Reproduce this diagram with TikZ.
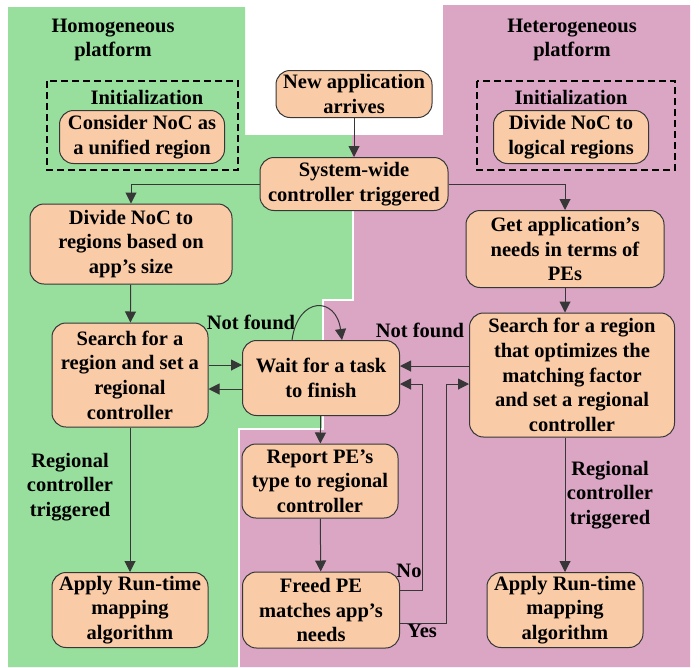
\documentclass[tikz,border=0pt]{standalone}
\usepackage{fontspec}
\setmainfont{Liberation Serif}
\usetikzlibrary{arrows.meta}
\definecolor{greenbg}{RGB}{152,223,157}
\definecolor{pinkbg}{RGB}{218,166,196}
\definecolor{peach}{RGB}{249,203,167}
\definecolor{linec}{RGB}{55,55,55}
\tikzset{
  box/.style={draw=linec, line width=1pt, fill=peach, rounded corners=14pt, align=center,
    font=\fontsize{20.5}{24.7}\selectfont\bfseries, inner sep=0pt},
  lbl/.style={align=center, font=\fontsize{20.5}{24.7}\selectfont\bfseries, inner sep=0pt},
  arr/.style={draw=linec, line width=1pt, -{Triangle[length=11pt,width=11pt]}},
  initbox/.style={draw=black, line width=1.1pt, dash pattern=on 7pt off 4pt}
}
\begin{document}
\begin{tikzpicture}[x=1pt,y=-1pt]
\useasboundingbox (0,0) rectangle (700,667);
% backgrounds
\fill[pinkbg] (443,5) -- (690,5) -- (690,667) -- (240,667) -- (240,428) -- (322,428) -- (322,300) -- (352,300) -- (352,135) -- (443,135) -- cycle;
\fill[greenbg] (8,7) -- (245,7) -- (245,135) -- (352,135) -- (352,300) -- (322,300) -- (322,428) -- (238,428) -- (238,667) -- (8,667) -- cycle;
\draw[white, line width=2.5pt] (353,210) -- (353,300) -- (323,300) -- (323,429) -- (239,429) -- (239,667);
% titles
\node[lbl] (homt) at (113,40) {Homogeneous\\platform};
\node[lbl] (hett) at (572,40) {Heterogeneous\\platform};
% initialization boxes
\draw[initbox] (47,81) rectangle (238,170);
\draw[initbox] (477,81) rectangle (675,170);
\node[lbl] (initL) at (147,97) {Initialization};
\node[lbl] (initR) at (571,97) {Initialization};
\node[box, minimum width=165pt, minimum height=53pt] (cons) at (142,137) {Consider NoC as\\a unified region};
\node[box, minimum width=155pt, minimum height=53pt] (divl) at (571,137) {Divide NoC to\\logical regions};
% main boxes
\node[box, minimum width=156pt, minimum height=47pt] (new) at (354,94) {New application\\arrives};
\node[box, minimum width=188pt, minimum height=53pt] (sys) at (354,184) {System-wide\\controller triggered};
\node[box, minimum width=202pt, minimum height=80pt] (divnoc) at (131,244) {Divide NoC to\\regions based on\\app's size};
\node[box, minimum width=198pt, minimum height=77pt] (getapp) at (565,249) {Get application's\\needs in terms of\\PEs};
\node[box, minimum width=156pt, minimum height=104pt] (searchL) at (130,375) {Search for a\\region and set a\\regional\\controller};
\node[box, minimum width=157pt, minimum height=75pt] (wait) at (321,378) {Wait for a task\\to finish};
\node[box, minimum width=205pt, minimum height=124pt] (searchR) at (572,375) {Search for a region\\that optimizes the\\matching factor\\and set a regional\\controller};
\node[box, minimum width=156pt, minimum height=74pt] (report) at (320,481) {Report PE's\\type to regional\\controller};
\node[box, minimum width=156pt, minimum height=75pt] (applyL) at (130,610) {Apply Run-time\\mapping\\algorithm};
\node[box, minimum width=157pt, minimum height=76pt] (freed) at (321,610) {Freed PE\\matches app's\\needs};
\node[box, minimum width=156pt, minimum height=75pt] (applyR) at (565,610) {Apply Run-time\\mapping\\algorithm};
% labels
\node[lbl] (nfL) at (251,322) {Not found};
\node[lbl] (nfR) at (420,330) {Not found};
\node[lbl] (rcL) at (70,487) {Regional\\controller\\triggered};
\node[lbl] (rcR) at (610,495) {Regional\\controller\\triggered};
\node[lbl] (no) at (409,571) {No};
\node[lbl] (yes) at (422,631) {Yes};
% connectors
\draw[arr] (new) -- (sys);
\draw[arr] (sys.west) -| (divnoc.north);
\draw[arr] (sys.east) -| (getapp.north);
\draw[arr] (divnoc) -- (searchL);
\draw[arr] (getapp.south) -- (getapp.south |- searchR.north);
\draw[arr] (searchL.east |- 0,365) -- (wait.west |- 0,365);
\draw[arr] (wait.west |- 0,389) -- (searchL.east |- 0,389);
\draw[arr] (searchR.west |- 0,366) -- (wait.east |- 0,366);
\draw[arr] ([xshift=-29pt]wait.north) .. controls (298,296) and (336,296) .. ([xshift=21pt]wait.north);
\draw[arr] (wait) -- (report);
\draw[arr] (report) -- (freed);
\draw[arr] (searchL) -- (applyL);
\draw[arr] (applyR.north |- searchR.south) -- (applyR.north);
\coordinate (noTop) at (422,384);
\coordinate (yesTop) at (446,384);
\draw[arr] (freed.east |- 0,590) -| (noTop) -- (wait.east |- noTop);
\draw[arr] (freed.east |- 0,623) -| (yesTop) -- (searchR.west |- yesTop);
\end{tikzpicture}
\end{document}
